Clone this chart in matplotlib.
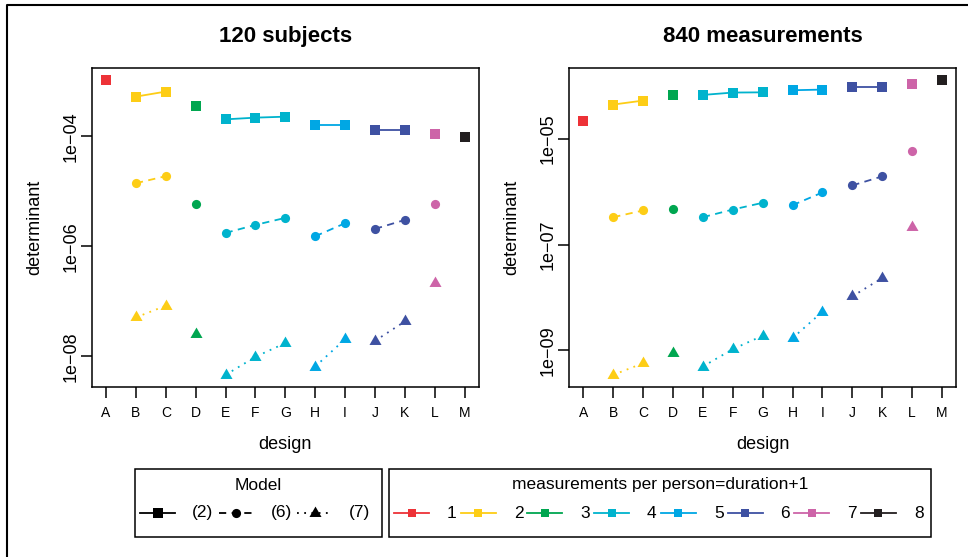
import numpy as np
import matplotlib
matplotlib.use("Agg")
import matplotlib.pyplot as plt
from matplotlib.patches import Rectangle
from matplotlib.ticker import FixedLocator, NullLocator

plt.rcParams['font.family'] = ['Liberation Sans', 'DejaVu Sans']

nan = np.nan

designs = list("ABCDEFGHIJKLM")
per_person = [1, 2, 2, 3, 4, 4, 4, 5, 5, 6, 6, 7, 8]  # measurements per person for each design

group_colors = {1: '#ED3237', 2: '#FDCD16', 3: '#00A650', 4: '#00B3CD',
                5: '#00A7E4', 6: '#3E51A2', 7: '#CD64A8', 8: '#231F20'}

# determinants, 120 subjects
subj_m2 = [1.08e-3, 5.28e-4, 6.52e-4, 3.62e-4, 2.04e-4, 2.19e-4, 2.28e-4,
           1.63e-4, 1.63e-4, 1.32e-4, 1.32e-4, 1.12e-4, 9.9e-5]
subj_m6 = [nan, 1.41e-5, 1.89e-5, 5.94e-6, 1.76e-6, 2.46e-6, 3.30e-6,
           1.53e-6, 2.64e-6, 2.08e-6, 3.03e-6, 5.85e-6, nan]
subj_m7 = [nan, 5.12e-8, 8.36e-8, 2.55e-8, 4.62e-9, 9.84e-9, 1.75e-8,
           6.56e-9, 2.06e-8, 1.92e-8, 4.33e-8, 2.13e-7, nan]

# determinants, 840 measurements
meas_m2 = [2.19e-5, 4.41e-5, 5.24e-5, 6.81e-5, 6.70e-5, 7.43e-5, 7.50e-5,
           8.22e-5, 8.45e-5, 9.64e-5, 9.64e-5, 1.10e-4, 1.31e-4]
meas_m6 = [nan, 3.29e-7, 4.41e-7, 4.73e-7, 3.29e-7, 4.59e-7, 6.15e-7,
           5.55e-7, 9.64e-7, 1.31e-6, 1.94e-6, 5.85e-6, nan]
meas_m7 = [nan, 3.46e-10, 5.75e-10, 8.77e-10, 4.98e-10, 1.06e-9, 1.90e-9,
           1.71e-9, 5.40e-9, 1.05e-8, 2.34e-8, 2.13e-7, nan]

subj_ticks = [1e-4, 1e-6, 1e-8]
subj_ticklabels = ['1e\u221204', '1e\u221206', '1e\u221208']
meas_ticks = [1e-5, 1e-7, 1e-9]
meas_ticklabels = ['1e\u221205', '1e\u221207', '1e\u221209']

model_labels = ['(2)', '(6)', '(7)']

# equilateral triangle with its centroid on the point
tri = [(0, 1), (-0.866, -0.5), (0.866, -0.5), (0, 1)]
model_markers = ['s', 'o', tri]
model_msize = [7.0, 6.6, 10.0]
model_ls = ['-', (0, (4, 3)), (0, (1, 3))]
LW = 1.3

fig = plt.figure(figsize=(9.68, 5.57), dpi=100)

W, H = 968, 557
panel_left = [91.7, 569]
ax_w, ax_top, ax_bot = 387.3, 67.7, 386.7

panels = [("120 subjects", [subj_m2, subj_m6, subj_m7], subj_ticks, subj_ticklabels),
          ("840 measurements", [meas_m2, meas_m6, meas_m7], meas_ticks, meas_ticklabels)]

x = np.arange(1, len(designs) + 1)
groups = np.array(per_person)

for (title, series, ticks, ticklabels), left in zip(panels, panel_left):
    ax = fig.add_axes([left / W, 1 - ax_bot / H, ax_w / W, (ax_bot - ax_top) / H])
    for m, vals in enumerate(series):
        vals = np.array(vals)
        for g in sorted(group_colors):
            idx = np.where((groups == g) & ~np.isnan(vals))[0]
            if len(idx) == 0:
                continue
            c = group_colors[g]
            ax.plot(x[idx], vals[idx], color=c, ls=model_ls[m], lw=LW,
                    marker=model_markers[m], ms=model_msize[m], mfc=c, mec=c, mew=0)
    ax.set_yscale('log')

    # R-style 4% padding on both axes
    allv = np.log10(np.concatenate([np.array(s, dtype=float) for s in series]))
    lo, hi = np.nanmin(allv), np.nanmax(allv)
    pad = 0.04 * (hi - lo)
    ax.set_ylim(10 ** (lo - pad), 10 ** (hi + pad))
    ax.set_xlim(1 - 0.04 * 12, 13 + 0.04 * 12)

    ax.yaxis.set_major_locator(FixedLocator(ticks))
    ax.yaxis.set_minor_locator(NullLocator())
    ax.set_yticklabels(ticklabels, fontsize=13, rotation=90, va='center')
    ax.set_xticks(x)
    ax.set_xticklabels(designs, fontsize=10)
    ax.tick_params(direction='out', length=8, width=1.1, color='black')
    ax.tick_params(axis='x', pad=6)
    ax.tick_params(axis='y', pad=1)
    for s in ax.spines.values():
        s.set_linewidth(1.1)

    ax.set_title(title, fontsize=16, fontweight='bold', pad=18.5)
    ax.set_ylabel('determinant', fontsize=13)
    ax.yaxis.set_label_coords(-0.126, 0.5)
    ax.set_xlabel('design', fontsize=13)
    ax.xaxis.set_label_coords(0.5, -0.155)

# overlay in pixel units for the frame and legends
over = fig.add_axes([0, 0, 1, 1])
over.set_xlim(0, W)
over.set_ylim(H, 0)
over.axis('off')

over.plot([7, 7, W], [H, 5, 5], color='black', lw=1.5, solid_capstyle='butt')

leg_y, title_y = 513, 485

over.add_patch(Rectangle((135, 468.5), 247, 68, fill=False, ec='black', lw=1.1))
over.text(258.5, title_y, 'Model', fontsize=12.5, ha='center', va='center')
for k, lab in enumerate(model_labels):
    x0 = 140 + 78.5 * k
    over.plot([x0, x0 + 35], [leg_y, leg_y], color='black', ls=model_ls[k], lw=LW)
    over.plot(x0 + 17.5, leg_y, marker=model_markers[k], ms=model_msize[k],
              color='black', mew=0)
    over.text(x0 + 52, leg_y, lab, fontsize=12.5, ha='left', va='center')

over.add_patch(Rectangle((389, 468.5), 542, 68, fill=False, ec='black', lw=1.1))
over.text(660, title_y, 'measurements per person=duration+1', fontsize=12.5,
          ha='center', va='center')
for k, g in enumerate(sorted(group_colors)):
    x0 = 394 + 66.7 * k
    c = group_colors[g]
    over.plot([x0, x0 + 35], [leg_y, leg_y], color=c, lw=LW)
    over.plot(x0 + 17.5, leg_y, marker='s', ms=6.0, color=c, mew=0)
    over.text(x0 + 53, leg_y, str(g), fontsize=12.5, ha='left', va='center')

fig.savefig('out.png', dpi=100)
